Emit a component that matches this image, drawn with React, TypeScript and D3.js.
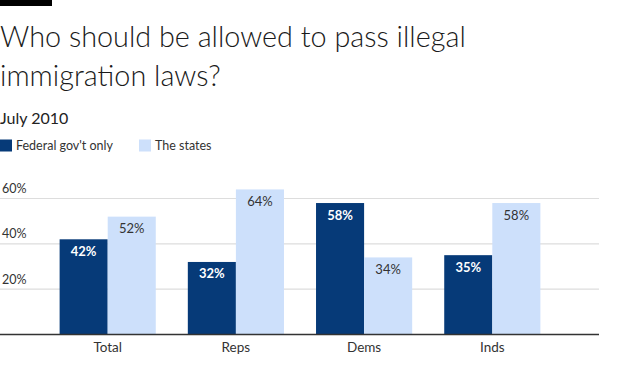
import React from "react";
import * as d3 from "d3";

const categories = ["Total", "Reps", "Dems", "Inds"];
const series = ["Federal gov't only", "The states"];
const federalValues = [42, 32, 58, 35];
const statesValues = [52, 64, 34, 58];
const yTicks = [20, 40, 60];
const title = ["Who should be allowed to pass illegal", "immigration laws?"];
const subtitle = "July 2010";

const colors = ["#063a78", "#cde0fb"];
const labelColors = ["#ffffff", "#333333"];
const FONT = "Lato, 'Open Sans', sans-serif";

export default function App() {
  const W = 620;
  const H = 370;
  const x = d3.scaleBand<string>().domain(categories).range([0, 600]).paddingInner(0.25).paddingOuter(0.465);
  const xs = d3.scaleBand<string>().domain(series).range([0, x.bandwidth()]).padding(0);
  const y = d3.scaleLinear().domain([0, 60]).range([334.5, 198.5]);
  const valuesBySeries = [federalValues, statesValues];

  return (
    <svg width={W} height={H} style={{ position: "absolute", left: 0, top: 0, background: "#fff" }} fontFamily={FONT}>
      <rect x={0} y={0} width={52} height={6} fill="#000" />
      {title.map((t, i) => (
        <text key={i} x={0} y={47 + i * 38.5} fontSize={28.8} fontWeight={300} fill="#1a1a1a">{t}</text>
      ))}
      <text x={0} y={124} fontSize={16} fill="#222">{subtitle}</text>
      {series.map((s, i) => {
        const lx = i === 0 ? 0 : 139;
        return (
          <g key={s}>
            <rect x={lx} y={139.5} width={12} height={12} fill={colors[i]} />
            <text x={lx + 16} y={150} fontSize={12.5} fill="#333">{s}</text>
          </g>
        );
      })}
      {yTicks.map((t) => (
        <g key={t}>
          <line x1={0} x2={599} y1={y(t)} y2={y(t)} stroke="#dddddd" strokeWidth={1.2} />
          <text x={2} y={y(t) - 5.5} fontSize={12.5} fill="#333">{t}%</text>
        </g>
      ))}
      {categories.map((c, ci) => (
        <g key={c} transform={`translate(${x(c)},0)`}>
          {series.map((s, si) => {
            const v = valuesBySeries[si][ci];
            const bx = xs(s) as number;
            return (
              <g key={s}>
                <rect x={bx} y={y(v)} width={xs.bandwidth()} height={y(0) - y(v)} fill={colors[si]} />
                <text x={bx + xs.bandwidth() / 2} y={y(v) + 16.5} textAnchor="middle" fontSize={13} fontWeight={si === 0 ? 700 : 400} fill={labelColors[si]}>{v}%</text>
              </g>
            );
          })}
          <text x={x.bandwidth() / 2} y={352} textAnchor="middle" fontSize={13.5} fill="#333">{c}</text>
        </g>
      ))}
      <line x1={0} x2={599} y1={y(0)} y2={y(0)} stroke="#333" strokeWidth={1.5} />
    </svg>
  );
}
